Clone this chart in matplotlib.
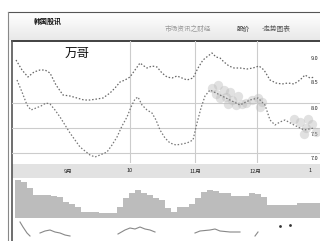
import numpy as np
import matplotlib
matplotlib.use("Agg")
import matplotlib.pyplot as plt

plt.rcParams["font.family"] = ["Noto Sans CJK SC", "DejaVu Sans"]

W, H = 320, 241

# --- price lines (day index, price) ---
upper_x = [2, 5, 8, 11, 14, 16.5, 19, 22, 25.5, 29, 32.5, 36, 39, 42.5, 45.5, 49, 51.5, 54,
           56.5, 59, 61.5, 64, 66, 67.5, 70, 72.5, 75, 77.5, 80, 82.5, 85, 87.5, 90.5, 93,
           95.5, 98, 100, 102, 104, 106, 108.5, 111, 114, 117.5, 120.5, 123.5, 126, 129,
           132, 135, 138, 141, 144, 146.5, 149, 151.5]
upper_y = [30.3, 29.3, 28.6, 29.1, 29.3, 29.3, 29.0, 27.8, 26.8, 26.7, 26.5, 26.3, 26.3, 26.4,
           26.5, 27.0, 27.5, 28.1, 28.3, 28.6, 29.3, 30.0, 29.7, 29.5, 29.7, 29.6, 29.0, 28.6,
           28.5, 28.7, 28.5, 28.3, 28.5, 29.5, 30.3, 30.7, 31.0, 30.6, 30.5, 30.1, 29.7, 29.5,
           29.5, 29.4, 29.5, 29.7, 29.3, 28.3, 28.0, 27.9, 28.0, 27.9, 28.3, 28.8, 28.5, 28.6]

lower_x = [2.5, 5, 7.5, 9.5, 12, 14.5, 17, 19, 21.5, 24, 26.5, 29, 31.5, 34, 36.5, 39, 41.5,
           44, 47.5, 50, 52.5, 55, 57.5, 59.5, 61.5, 63, 65, 67.5, 70, 72, 74, 76.5, 79, 82,
           85, 87.5, 90.5, 92.5, 94.5, 96.5, 99, 104, 109, 114, 119, 123, 126.5, 129, 131.5,
           134, 136.5, 141, 146, 151]
lower_y = [28.3, 27.1, 25.8, 25.3, 25.5, 25.7, 26.0, 25.9, 25.3, 24.6, 23.8, 23.0, 22.3, 21.6,
           21.2, 20.8, 20.6, 20.8, 21.1, 21.8, 22.6, 23.7, 24.6, 25.6, 26.4, 26.6, 25.8, 25.3,
           25.0, 24.3, 23.3, 22.5, 22.0, 21.8, 21.9, 22.0, 22.3, 24.0, 25.5, 26.7, 27.3, 26.8,
           26.3, 25.8, 26.3, 26.5, 25.8, 24.3, 23.8, 24.1, 24.3, 23.8, 23.3, 23.5]

# soft gray clusters over the lines
blob_x = [100, 102, 103, 106, 107, 109, 104, 110, 112, 113, 115, 108, 117, 120, 123, 124, 125,
          141, 144, 147, 150, 146, 152, 148]
blob_y = [27.5, 26.9, 27.8, 27.3, 26.6, 27.1, 26.5, 26.3, 25.8, 26.7, 25.9, 25.9, 26.0, 26.3,
          26.5, 25.6, 26.1, 24.4, 24.1, 23.5, 23.9, 22.9, 23.1, 24.4]

# --- volume ---
vol_x = list(range(3, 154, 3))
vol = [38, 36, 30, 23, 23, 23, 22, 21, 16, 14, 11, 6, 6, 6, 5, 5, 5, 11, 20, 25, 28, 25, 23,
       20, 18, 10, 6, 11, 11, 14, 20, 26, 28, 27, 25, 25, 22, 22, 22, 25, 24, 21, 13, 13, 13,
       13, 13, 15, 15, 15, 15]

# --- indicator segments ---
ind_segments = [
    ([4, 5.5, 7.5, 9], [19, 14, 8, 5]),
    ([14, 16.5, 19, 21.5, 24, 26.5, 29], [8, 10, 11, 9, 8, 6, 5]),
    ([53, 56.5, 59, 61.5, 64, 66.5, 69, 71.5], [7, 11, 13, 12, 14, 12, 11, 9]),
    ([91.5, 94, 99, 101.5, 104, 109, 114], [8, 10, 11, 12, 10, 9, 9]),
    ([121.5, 123], [5, 9]),
]
ind_dots_x = [134, 139]
ind_dots_y = [15, 16]

date_labels = ["9月", "10", "11月", "12月", "1"]
date_px = [68, 130, 195, 255, 310]
price_labels = ["9.0", "8.5", "8.0", "7.5", "7.0"]
price_px = [58, 82, 108, 135, 158]


def box(x0, y0, x1, y1):
    return [x0 / W, 1 - y1 / H, (x1 - x0) / W, (y1 - y0) / H]


fig = plt.figure(figsize=(3.2, 2.41), dpi=100, facecolor="white")

# background / frame layer
bg = fig.add_axes([0, 0, 1, 1])
bg.set_xlim(0, W)
bg.set_ylim(H, 0)
bg.axis("off")
grad = np.linspace(1.0, 0.91, 50).reshape(-1, 1)
bg.imshow(grad, cmap="gray", vmin=0, vmax=1, extent=[8, 320, 40, 12], aspect="auto")
bg.fill_between([12, 320], 164, 178, color="#e2e2e2", lw=0)
bg.plot([8, 320], [12, 12], color="#555555", lw=0.8)
bg.plot([8, 8], [12, 241], color="#888888", lw=0.8)
bg.plot([12, 320], [40.5, 40.5], color="#333333", lw=1.3)
bg.plot([12, 12], [41, 241], color="#555555", lw=1.2)
bg.text(34, 21, "韩国股讯", fontsize=5, fontweight="bold", color="#111111", va="center")
bg.text(165, 29, "市场资讯之财经", fontsize=4.8, color="#999999", va="center")
bg.text(237, 29, "股价", fontsize=4.8, color="#333333", va="center")
bg.text(262, 29, "-走势图表", fontsize=4.8, color="#555555", va="center")
for lbl, x in zip(date_labels, date_px):
    bg.text(x, 171, lbl, fontsize=4, color="#222222", ha="center", va="center")
for lbl, y in zip(price_labels, price_px):
    bg.text(318, y, lbl, fontsize=4, color="#222222", ha="right", va="center",
            bbox=dict(facecolor="white", edgecolor="none", pad=0.3))
bg.set_zorder(0)

# main price panel
ax = fig.add_axes(box(12, 41, 320, 163))
ax.patch.set_alpha(0)
ax.set_xlim(0, 154)
ax.set_ylim(20, 32.2)
ax.set_xticks([59, 91.5, 122.5])
ax.set_yticks([21, 23.5, 26])
ax.grid(True, color="#cccccc", lw=0.8)
ax.tick_params(length=0, labelbottom=False, labelleft=False)
for s in ax.spines.values():
    s.set_visible(False)
ax.scatter(blob_x, blob_y, s=45, color="#bdbdbd", alpha=0.45, lw=0, zorder=2)
ax.plot(upper_x, upper_y, color="#666666", lw=0.9, ls=(0, (1.2, 1.5)), zorder=3)
ax.plot(lower_x, lower_y, color="#777777", lw=0.9, ls=(0, (1.2, 1.5)), zorder=3)
ax.text(0.21, 0.9, "万哥", transform=ax.transAxes, fontsize=9, color="#111111",
        ha="center", va="center", zorder=4)

# volume panel
axv = fig.add_axes(box(12, 178, 320, 218))
axv.patch.set_alpha(0)
axv.set_xlim(0, 154)
axv.set_ylim(0, 40)
axv.bar(vol_x, vol, width=2.6, color="#bcbcbc", lw=0)
axv.axis("off")

# indicator panel
axi = fig.add_axes(box(12, 219, 320, 241))
axi.patch.set_alpha(0)
axi.set_xlim(0, 154)
axi.set_ylim(0, 22)
for xs, ys in ind_segments:
    axi.plot(xs, ys, color="#888888", lw=0.8)
axi.scatter(ind_dots_x, ind_dots_y, s=4, color="#333333", lw=0)
axi.axis("off")

fig.savefig("out.png", dpi=100, facecolor="white")
